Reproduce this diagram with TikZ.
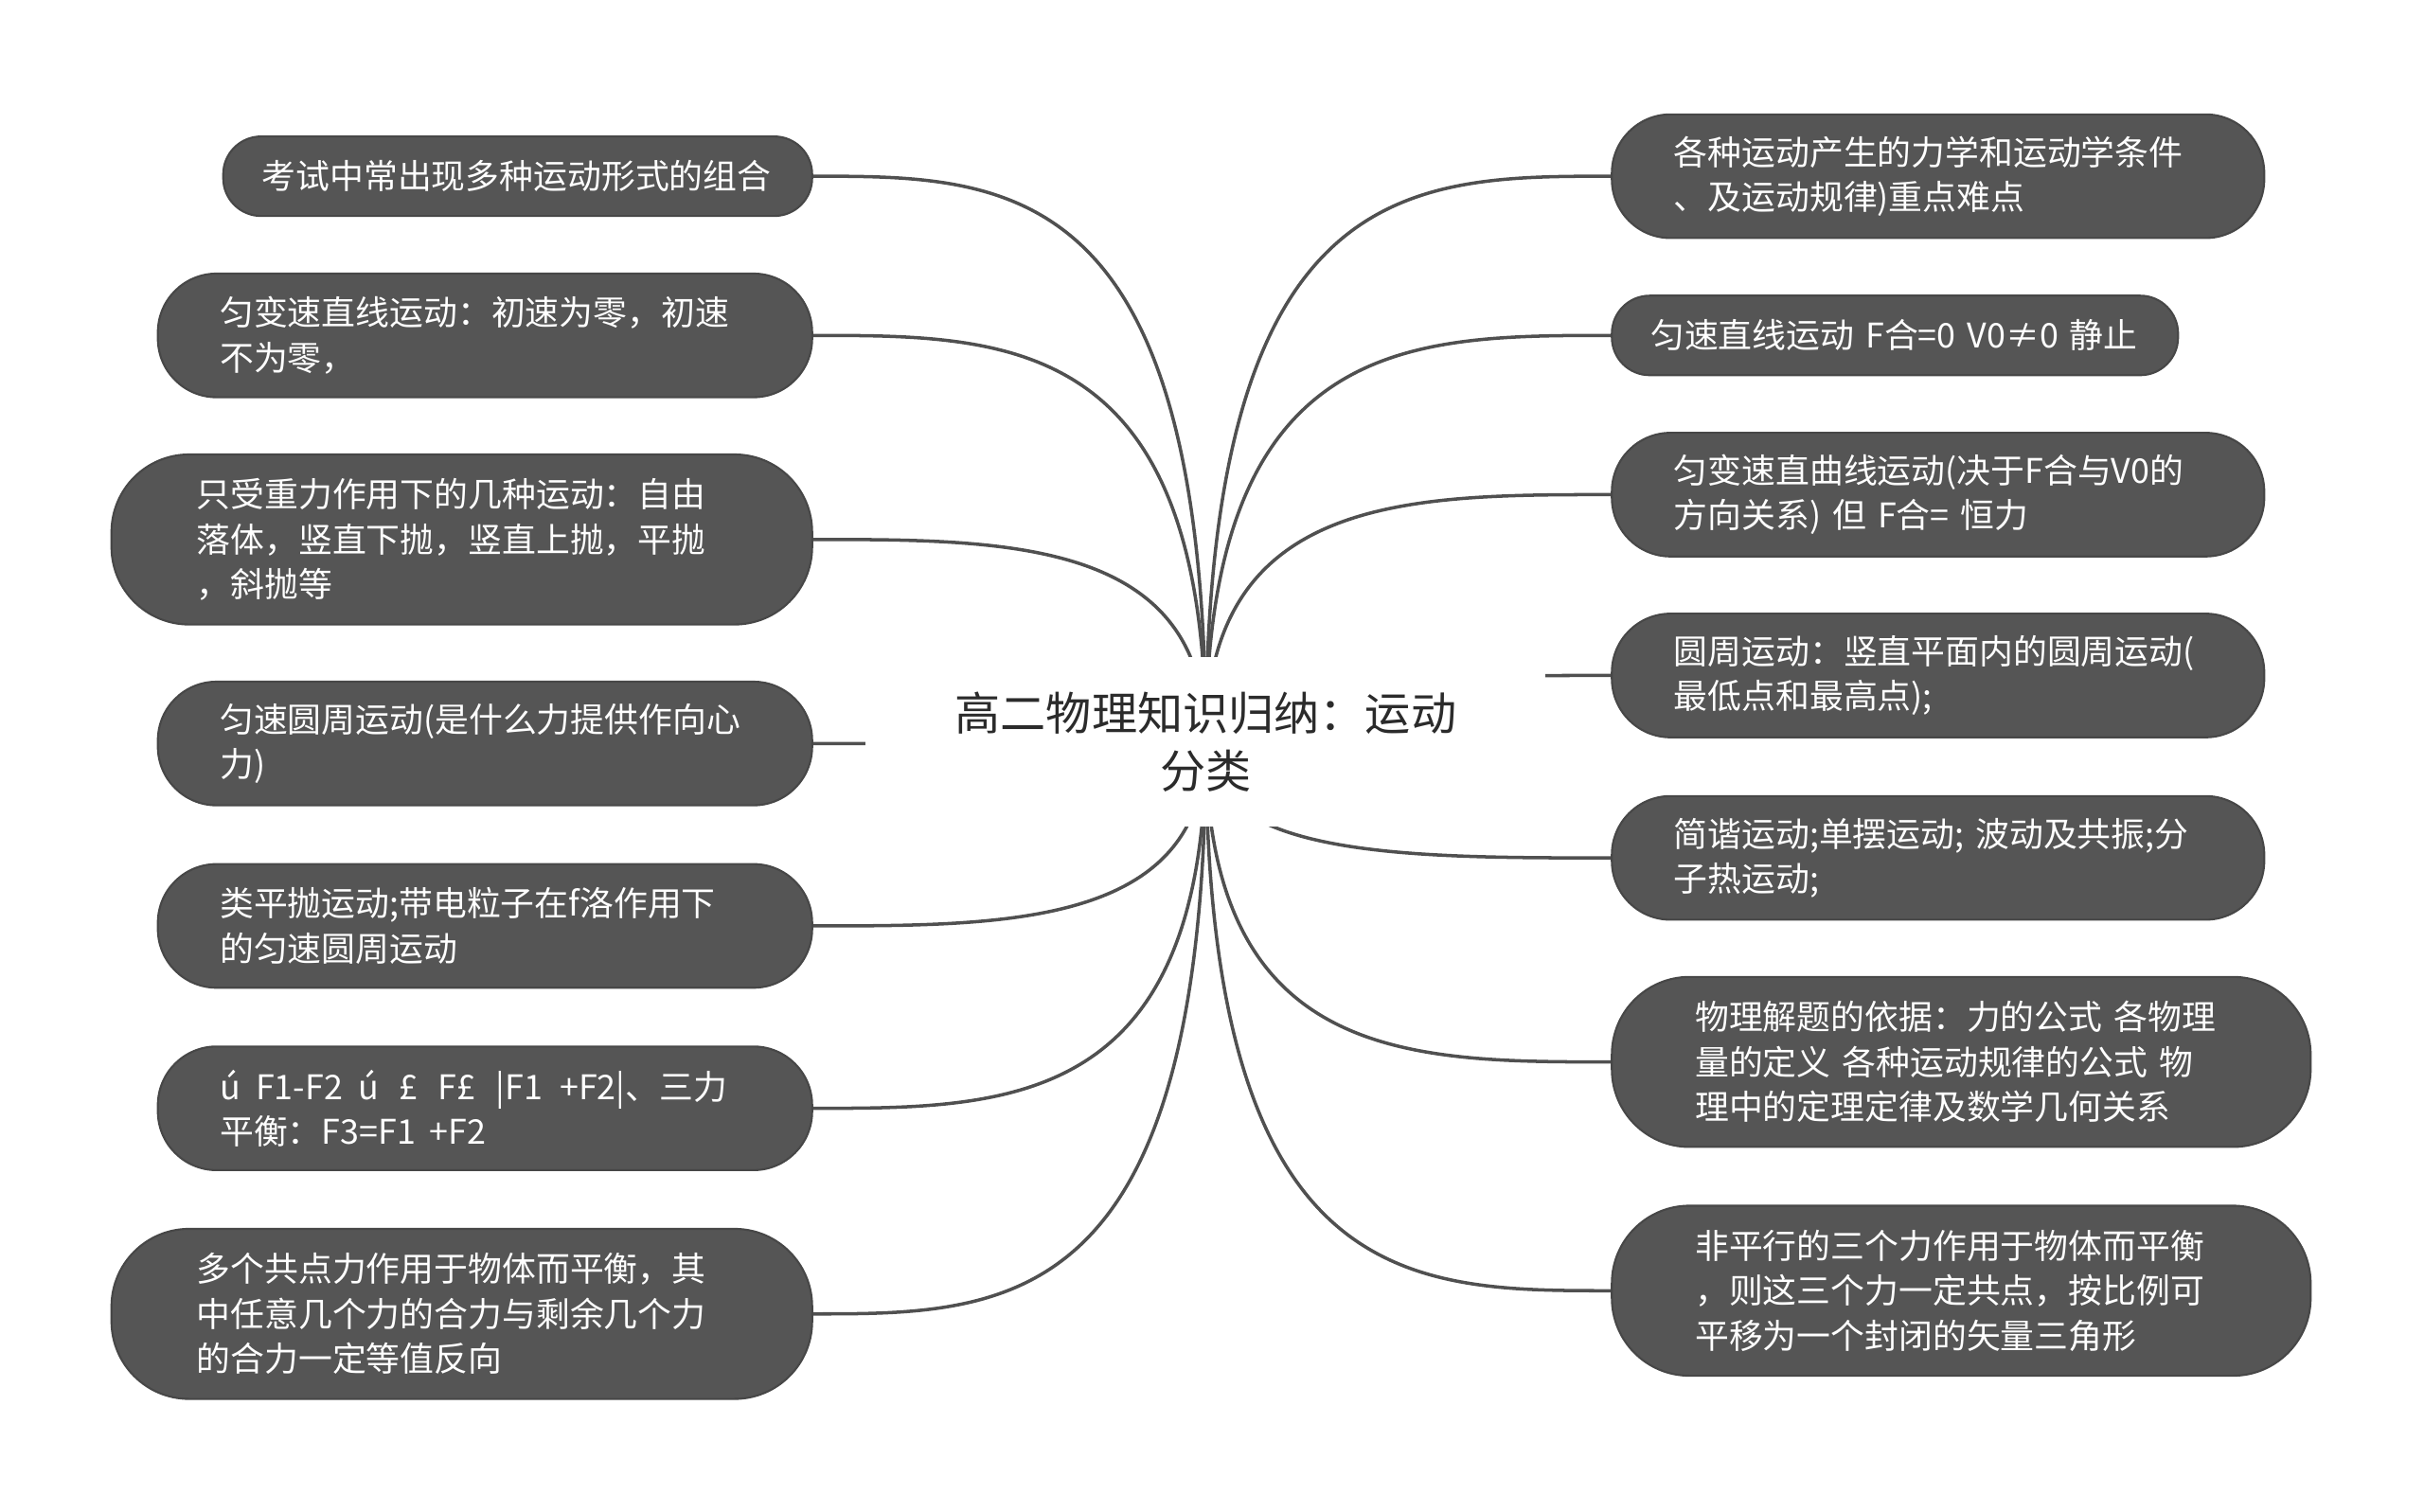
\documentclass[tikz,border=0pt]{standalone}
\usepackage{fontspec}
\setmainfont{Noto Sans CJK SC}
\usetikzlibrary{backgrounds,calc}
\definecolor{boxgray}{HTML}{555555}
\definecolor{edgegray}{HTML}{474747}
\definecolor{linkgray}{HTML}{505050}
\definecolor{titleink}{HTML}{2B2B2B}
\tikzset{
  topic/.style={draw=edgegray, line width=0.6pt, fill=boxgray, text=white, align=left, inner sep=0pt, font=\fontsize{10.2}{13.5}\selectfont},
  oneline/.style={topic, minimum height=8.4mm, rounded corners=4mm},
  twoline/.style={topic, minimum height=13.06mm, rounded corners=6.2mm},
  threeline/.style={topic, minimum height=17.96mm, rounded corners=8.2mm},
  link/.style={draw=linkgray, line width=1pt},
  root/.style={fill=white, text=titleink, align=center, minimum width=71.8mm, minimum height=17.96mm, font=\fontsize{13.7}{17.6}\selectfont},
}
\begin{document}
\begin{tikzpicture}[x=0.16327mm, y=-0.16327mm]
\useasboundingbox (0,0) rectangle (1568,978);
\node[root] (c) at (780,480) {高二物理知识归纳：运动\\分类};
% left side
\node[oneline, minimum width=62.2mm, text width=54mm, anchor=east] (l1) at (526,114) {考试中常出现多种运动形式的组合};
\node[twoline, minimum width=69.1mm, text width=56mm, anchor=east] (l2) at (526,217) {匀变速直线运动：初速为零，初速\\不为零，};
\node[threeline, minimum width=74mm, text width=56mm, anchor=east] (l3) at (526,349) {只受重力作用下的几种运动：自由\\落体，竖直下抛，竖直上抛，平抛\\，斜抛等};
\node[twoline, minimum width=69.1mm, text width=56mm, anchor=east] (l4) at (526,481) {匀速圆周运动(是什么力提供作向心\\力)};
\node[twoline, minimum width=69.1mm, text width=56mm, anchor=east] (l5) at (526,599) {类平抛运动;带电粒子在f洛作用下\\的匀速圆周运动};
\node[twoline, minimum width=69.1mm, text width=56mm, anchor=east] (l6) at (526,717) {ú\hspace{.45em}F1-F2\hspace{.45em}ú\hspace{.6em}£\hspace{.6em}F£\hspace{.6em}|F1\hspace{.5em}+F2|、三力\\平衡：F3=F1\hspace{.4em}+F2};
\node[threeline, minimum width=74mm, text width=56mm, anchor=east] (l7) at (526,850) {多个共点力作用于物体而平衡，其\\中任意几个力的合力与剩余几个力\\的合力一定等值反向};
% right side
\node[twoline, minimum width=68.9mm, text width=55.8mm, anchor=west] (r1) at (1042,114) {各种运动产生的力学和运动学条件\\、及运动规律)重点难点};
\node[oneline, minimum width=59.8mm, text width=51.6mm, anchor=west] (r2) at (1042,217) {匀速直线运动 F合=0 V0≠0 静止};
\node[twoline, minimum width=68.9mm, text width=55.8mm, anchor=west] (r3) at (1042,320) {匀变速直曲线运动(决于F合与V0的\\方向关系) 但 F合= 恒力};
\node[twoline, minimum width=68.9mm, text width=55.8mm, anchor=west] (r4) at (1042,437) {圆周运动：竖直平面内的圆周运动(\\最低点和最高点);};
\node[twoline, minimum width=68.9mm, text width=55.8mm, anchor=west] (r5) at (1042,555) {简谐运动;单摆运动; 波动及共振;分\\子热运动;};
\node[threeline, minimum width=73.8mm, text width=56.2mm, anchor=west] (r6) at (1042,687) {物理解题的依据：力的公式 各物理\\量的定义 各种运动规律的公式 物\\理中的定理定律及数学几何关系};
\node[threeline, minimum width=73.8mm, text width=56.2mm, anchor=west] (r7) at (1042,835) {非平行的三个力作用于物体而平衡\\，则这三个力一定共点，按比例可\\平移为一个封闭的矢量三角形};
\begin{scope}[on background layer]
\foreach \n in {l1,l2,l3,l4,l5,l6,l7}
  \draw[link] (c.center) .. controls (c.center |- \n.east) and ($(c.center |- \n.east)!.5!(\n.east)$) .. (\n.east);
\foreach \n in {r1,r2,r3,r4,r5,r6,r7}
  \draw[link] (c.center) .. controls (c.center |- \n.west) and ($(c.center |- \n.west)!.5!(\n.west)$) .. (\n.west);
\end{scope}
\end{tikzpicture}
\end{document}
